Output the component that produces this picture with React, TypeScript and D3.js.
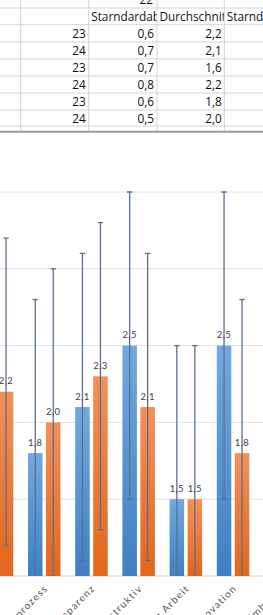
import React from 'react';
import { scaleBand, scaleLinear, format } from 'd3';

// chart data
const categories = [
  'Arbeitsklima',
  'Entscheidungsprozess',
  'Transparenz',
  'Konstruktiv',
  'Anerkennung Arbeit',
  'Innovation',
  'Umbruch',
];
const seriesBlue = [2.0, 1.8, 2.1, 2.5, 1.5, 2.5, 2.0];
const seriesOrange = [2.2, 2.0, 2.3, 2.1, 1.5, 1.8, 2.0];
const errorFixed = 1.0;
const yTicks = [1, 1.5, 2, 2.5, 3, 3.5, 4];

// spreadsheet cells above the chart
const topCell = '22';
const headers = ['Starndardab', 'Durchschnit', 'Starnd'];
const colCount = [23, 24, 23, 24, 23, 24];
const colStd = ['0,6', '0,7', '0,7', '0,8', '0,6', '0,5'];
const colMean = ['2,2', '2,1', '1,6', '2,2', '1,8', '2,0'];

const W = 263;
const H = 615;
const rowLines = [8, 24.7, 42, 59, 76, 93, 110, 126];
const colLines = [20.7, 88.7, 157, 224.3];
const rowH = 17;

const fmt = (v: number) => format('.1f')(v).replace('.', ',');

const App: React.FC = () => {
  const step = 47.2;
  const x0 = -26.3;
  const x = scaleBand<string>()
    .domain(categories)
    .range([x0, x0 + step * categories.length]);
  const inner = scaleBand<string>()
    .domain(['blue', 'orange'])
    .range([-16.5, 16])
    .paddingInner(0.194);
  const y = scaleLinear().domain([1, 4]).range([576, 115.2]);

  const series = [
    { key: 'blue', values: seriesBlue, fill: 'url(#gBlue)' },
    { key: 'orange', values: seriesOrange, fill: 'url(#gOrange)' },
  ];
  const chartFont = 'Lato, "Open Sans", sans-serif';
  const cellFont = '"Open Sans", sans-serif';
  const barX = (c: string, k: string) => x(c)! + x.bandwidth() / 2 + inner(k)!;

  return (
    <div>
      <style>{'body{margin:0;}'}</style>
      <svg width={W} height={H} style={{ display: 'block', background: '#fff' }}>
        <defs>
          <linearGradient id="gBlue" x1="0" y1="0" x2="0" y2="1">
            <stop offset="0" stopColor="#72a9de" />
            <stop offset="1" stopColor="#3f80c3" />
          </linearGradient>
          <linearGradient id="gOrange" x1="0" y1="0" x2="0" y2="1">
            <stop offset="0" stopColor="#f3905a" />
            <stop offset="1" stopColor="#e3661b" />
          </linearGradient>
          <clipPath id="plot">
            <rect x={-60} y={y(4)} width={W + 120} height={y(1) - y(4)} />
          </clipPath>
        </defs>

        {/* gridlines */}
        {yTicks.map((t) => (
          <line
            key={t}
            x1={0}
            x2={W}
            y1={y(t)}
            y2={y(t)}
            stroke={t === 1 ? '#d4d4d4' : '#dfe2e8'}
            strokeWidth={1}
          />
        ))}

        {/* bars */}
        {series.map((s) =>
          categories.map((c, i) => (
            <rect
              key={s.key + c}
              x={barX(c, s.key)}
              y={y(s.values[i])}
              width={inner.bandwidth()}
              height={y(1) - y(s.values[i])}
              fill={s.fill}
            />
          )),
        )}

        {/* error bars */}
        <g clipPath="url(#plot)" stroke="#5b7091" strokeWidth={1.3}>
          {series.map((s) =>
            categories.map((c, i) => {
              const cx = barX(c, s.key) + inner.bandwidth() / 2;
              const top = y(s.values[i] + errorFixed);
              const bot = y(s.values[i] - errorFixed);
              return (
                <g key={s.key + c}>
                  <line x1={cx} x2={cx} y1={top} y2={bot} />
                  <line x1={cx - 2.7} x2={cx + 2.7} y1={top} y2={top} />
                  <line x1={cx - 2.7} x2={cx + 2.7} y1={bot} y2={bot} />
                </g>
              );
            }),
          )}
        </g>

        {/* data labels */}
        {series.map((s) =>
          categories.map((c, i) => (
            <text
              key={s.key + c}
              x={barX(c, s.key) + inner.bandwidth() / 2}
              y={y(s.values[i]) - 7.5}
              textAnchor="middle"
              fontSize={9.5}
              letterSpacing={0.4}
              fill="#404040"
              fontFamily={chartFont}
            >
              {fmt(s.values[i])}
            </text>
          )),
        )}

        {/* category labels */}
        {categories.map((c) => {
          const cx = x(c)! + x.bandwidth() / 2 + 4;
          return (
            <text
              key={c}
              transform={`translate(${cx},${y(1) + 13}) rotate(-45)`}
              textAnchor="end"
              fontSize={10}
              letterSpacing={1.2}
              fill="#595959"
              fontFamily={chartFont}
            >
              {c}
            </text>
          );
        })}

        {/* spreadsheet area */}
        <rect x={0} y={0} width={W} height={131} fill="#fff" />
        {rowLines.map((ry) => (
          <line key={ry} x1={0} x2={W} y1={ry} y2={ry} stroke="#d4d4d4" />
        ))}
        {colLines.map((cx) => (
          <line key={cx} x1={cx} x2={cx} y1={0} y2={131} stroke="#d4d4d4" />
        ))}
        <line x1={0} x2={W} y1={131.8} y2={131.8} stroke="#9b9b9b" strokeWidth={2} />

        <g fontFamily={cellFont} fontSize={11.8} fill="#111">
          <text x={colLines[2] - 4} y={3.5} textAnchor="end">
            {topCell}
          </text>
          <clipPath id="c1">
            <rect x={colLines[1]} y={8} width={colLines[2] - colLines[1] - 0.5} height={17} />
          </clipPath>
          <clipPath id="c2">
            <rect x={colLines[2]} y={8} width={colLines[3] - colLines[2] - 0.5} height={17} />
          </clipPath>
          {headers.map((h, i) => (
            <text
              key={h}
              x={colLines[i + 1] + 2.5}
              y={rowLines[0] + 12.5}
              clipPath={i < 2 ? `url(#c${i + 1})` : undefined}
            >
              {h}
            </text>
          ))}
          {colCount.map((v, i) => (
            <g key={i}>
              <text x={colLines[1] - 3} y={rowLines[1] + i * rowH + 12.8} textAnchor="end">
                {v}
              </text>
              <text x={colLines[2] - 3} y={rowLines[1] + i * rowH + 12.8} textAnchor="end">
                {colStd[i]}
              </text>
              <text x={colLines[3] - 2.5} y={rowLines[1] + i * rowH + 12.8} textAnchor="end">
                {colMean[i]}
              </text>
            </g>
          ))}
        </g>
      </svg>
    </div>
  );
};

export default App;
